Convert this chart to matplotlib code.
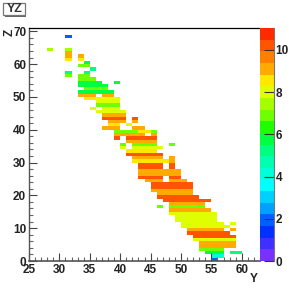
import numpy as np
import matplotlib
matplotlib.use('Agg')
import matplotlib.pyplot as plt
from matplotlib.colors import ListedColormap, BoundaryNorm
from matplotlib.patches import Rectangle
from matplotlib.ticker import MultipleLocator

plt.rcParams['font.family'] = ['Liberation Sans', 'DejaVu Sans']

# runs of filled bins: Z row, first Y bin, last Y bin, content
seg_z = [68, 64, 64, 63, 62, 62, 61, 61, 60, 59, 58, 57, 57, 56, 56, 55, 54, 54, 53, 52, 51,
         50, 50, 49, 49, 48, 47, 46, 46, 45, 44, 43, 43, 42, 42, 41, 41, 40, 40,
         39, 39, 39, 38, 38, 37, 37, 36, 35, 35, 35, 34, 34, 33, 32, 31, 31, 30, 30,
         29, 29, 28, 28, 27, 26, 25, 25, 24, 24, 23, 22, 21, 20, 19, 18, 17, 16, 16,
         15, 14, 13, 12, 11, 11, 10, 9, 9, 8, 7, 6, 5, 4, 3, 2, 2, 1, 0]
seg_y0 = [31, 28, 31, 31, 31, 33, 31, 33, 34, 33, 35, 31, 34, 31, 33, 33, 33, 39, 33, 34, 33,
          33, 37, 34, 36, 36, 36, 35, 37, 36, 37, 37, 42, 38, 42, 38, 41, 37, 42,
          39, 43, 45, 39, 45, 39, 41, 41, 40, 42, 48, 40, 42, 41, 41, 42, 48, 42, 48,
          43, 48, 43, 48, 43, 43, 43, 48, 44, 48, 45, 45, 45, 46, 46, 47, 48, 46, 48,
          48, 48, 49, 49, 50, 58, 50, 51, 58, 51, 52, 52, 53, 53, 53, 54, 58, 55, 55]
seg_y1 = [31, 28, 31, 31, 31, 33, 31, 33, 34, 34, 35, 31, 34, 31, 34, 35, 36, 39, 37, 37, 38,
          35, 38, 35, 39, 39, 39, 35, 39, 40, 40, 40, 42, 40, 42, 39, 41, 39, 43,
          42, 44, 45, 43, 45, 39, 45, 45, 40, 45, 48, 40, 46, 45, 46, 46, 48, 47, 48,
          46, 48, 46, 48, 49, 49, 46, 49, 46, 50, 51, 51, 51, 51, 52, 54, 53, 46, 53,
          54, 55, 55, 55, 56, 58, 57, 56, 58, 57, 58, 58, 58, 58, 56, 56, 59, 56, 55]
seg_val = [2, 7.5, 7.5, 9, 9, 9, 8.5, 8.5, 6, 7, 5.3, 5.3, 5.3, 7, 7, 7, 6, 5.7, 6, 7, 6,
           9, 9, 8.5, 8, 8, 7, 8, 8, 8, 9, 10, 10, 9, 9, 8.5, 8, 9, 9,
           7, 8.5, 7, 9, 9, 10, 10, 9, 7, 7, 7, 8, 8, 8.5, 10, 9, 9, 8.5, 9,
           10, 10, 10, 10, 9, 9, 10, 10, 9, 9, 10, 10, 9, 9, 10, 10, 9, 7, 7,
           9, 8, 8, 8, 8, 8, 8, 9, 9, 10, 10, 8, 9, 9, 7, 6, 5.3, 4.2, 2]

z_max = 11.04
palette = ['#7A30FF', '#4030FF', '#0030FF', '#0060FF', '#00A0FF', '#00D0FF', '#00FFFF',
           '#00FFD8', '#00FFB0', '#00FF80', '#00FF40', '#20FF00', '#70FF00', '#A5FF00',
           '#DFFF00', '#FFE800', '#FFAA00', '#FF8000', '#FF5500', '#FF2A00']

W, H = 289, 291
fig = plt.figure(figsize=(W/100, H/100), dpi=100)
ax = fig.add_axes([29/W, 30/H, 231/W, 233/H])

y_edges = np.arange(25, 64)
z_edges = np.arange(0, 72)
counts = np.full((71, 38), np.nan)
for z, y0, y1, v in zip(seg_z, seg_y0, seg_y1, seg_val):
    counts[z, y0-25:y1-25+1] = v

levels = np.linspace(0, z_max, len(palette)+1)
cmap = ListedColormap(palette)
norm = BoundaryNorm(levels, cmap.N)
ax.pcolormesh(y_edges, z_edges, np.ma.masked_invalid(counts), cmap=cmap, norm=norm, antialiased=False)

ax.set_xlim(25, 63); ax.set_ylim(0, 71)
ax.xaxis.set_major_locator(MultipleLocator(5)); ax.xaxis.set_minor_locator(MultipleLocator(1))
ax.yaxis.set_major_locator(MultipleLocator(10)); ax.yaxis.set_minor_locator(MultipleLocator(2))
ax.tick_params(which='major', direction='in', length=6, width=0.8, color='#444444', labelsize=8.5, pad=2)
ax.tick_params(which='minor', direction='in', length=3, width=0.8, color='#666666')
for lab in ax.get_xticklabels() + ax.get_yticklabels():
    lab.set_fontweight('bold'); lab.set_color('#222222')
ax.spines['right'].set_visible(False)
ax.spines['top'].set_color('black'); ax.spines['top'].set_linewidth(0.9)
ax.spines['left'].set_color('#555555'); ax.spines['bottom'].set_color('#555555')
ax.spines['left'].set_linewidth(1.0); ax.spines['bottom'].set_linewidth(1.2)

# palette on the right
cax = fig.add_axes([260/W, 30/H, 14/W, 233/H])
cax.pcolormesh([0, 1], levels, np.arange(len(palette)).reshape(-1, 1), cmap=cmap, vmin=-0.5, vmax=len(palette)-0.5)
cax.set_xlim(0, 1); cax.set_ylim(0, z_max)
cax.set_xticks([])
cax.yaxis.tick_right()
cax.set_yticks([0, 2, 4, 6, 8, 10])
cax.tick_params(axis='y', direction='in', length=7, width=0.8, color='#333333', labelsize=8.5, pad=1)
for lab in cax.get_yticklabels():
    lab.set_fontweight('bold'); lab.set_color('#222222')
for s in cax.spines.values():
    s.set_visible(False)
cax.spines['right'].set_visible(True); cax.spines['right'].set_color('#777777'); cax.spines['right'].set_linewidth(0.8)

# axis titles
fig.text(254/W, 1-279.5/H, 'Y', fontsize=8.5, fontweight='bold', ha='center', va='center', color='#222222')
fig.text(10/W, 1-32/H, 'Z', fontsize=8.5, fontweight='bold', rotation=90, ha='center', va='center', color='#222222')

# title box
fig.patches.append(Rectangle((5/W, 1-16.5/H), 21/W, 12/H, transform=fig.transFigure, fc='#666666', ec='none'))
fig.patches.append(Rectangle((3/W, 1-14.5/H), 22/W, 12/H, transform=fig.transFigure, fc='white', ec='#777777', lw=0.9))
fig.text(14.5/W, 1-8.5/H, 'YZ', fontsize=9, fontweight='bold', ha='center', va='center', color='#333333')

fig.savefig('out.png', dpi=100)
